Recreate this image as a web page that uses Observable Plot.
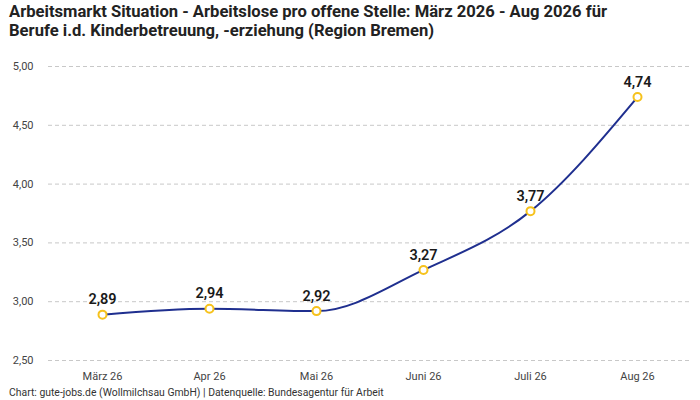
<!DOCTYPE html>
<html><head><meta charset="utf-8">
<script src="https://cdn.jsdelivr.net/npm/d3@7"></script>
<script src="https://cdn.jsdelivr.net/npm/@observablehq/plot@0.6"></script>
<style>
body{margin:0;background:#fff;font-family:Roboto,"Noto Sans",sans-serif;width:700px;height:400px;overflow:hidden}
#title{font-weight:700;font-size:16.6px;line-height:19px;color:#222;padding:2px 0 0 9px;height:47px;box-sizing:border-box}
#footer{font-size:10.4px;line-height:12px;color:#333;padding-left:9px;margin-top:0px}
</style></head><body>
<div id="title">Arbeitsmarkt Situation - Arbeitslose pro offene Stelle: März 2026 - Aug 2026 für<br>Berufe i.d. Kinderbetreuung, -erziehung (Region Bremen)</div>
<div id="chart"></div>
<div id="footer">Chart: gute-jobs.de (Wollmilchsau GmbH) | Datenquelle: Bundesagentur für Arbeit</div>
<script>
const months = ["März 26","Apr 26","Mai 26","Juni 26","Juli 26","Aug 26"];
const values = [2.89, 2.94, 2.92, 3.27, 3.77, 4.74];
const yTicks = [2.5, 3.0, 3.5, 4.0, 4.5, 5.0];
const data = months.map((m,i)=>({month:m, value:values[i]}));
const fmt = v => v.toFixed(2).replace(".", ",");
const plot = Plot.plot({
  width:700, height:340,
  marginTop:19, marginLeft:48, marginRight:10, marginBottom:27,
  style:{fontFamily:"Roboto, 'Noto Sans', sans-serif", fontSize:"11px", color:"#444"},
  x:{type:"point", domain:months, padding:0.5, label:null, tickSize:0, tickPadding:12},
  y:{domain:[2.5,5], ticks:yTicks, tickFormat:fmt, label:null, tickSize:0, tickPadding:15},
  marks:[
    Plot.gridY(yTicks,{stroke:"#c8c8c8", strokeOpacity:1, strokeDasharray:"4,3"}),
    Plot.line(data,{x:"month", y:"value", stroke:"#1f2f8f", strokeWidth:2, curve:"monotone-x"}),
    Plot.dot(data,{x:"month", y:"value", r:4, fill:"white", stroke:"#f6c21c", strokeWidth:2}),
    Plot.text(data,{x:"month", y:"value", text:d=>fmt(d.value), dy:-15, fontSize:14.5, fontWeight:600, fill:"#1a1a1a"})
  ]
});
document.getElementById("chart").append(plot);
</script>
</body></html>
